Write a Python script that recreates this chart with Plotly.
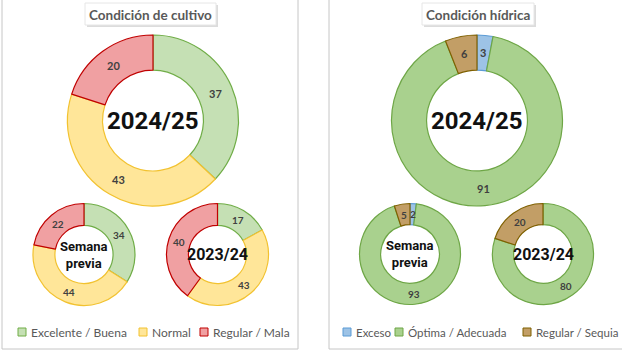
import math
import plotly.graph_objects as go

W, H = 622, 351

# ---------------- data ----------------
cult_labels = ["Excelente / Buena", "Normal", "Regular / Mala"]
cult_2024_25 = [37, 43, 20]
cult_semana = [34, 44, 22]
cult_2023_24 = [17, 43, 40]

hid_labels = ["Exceso", "Óptima / Adecuada", "Regular / Sequia"]
hid_2024_25 = [3, 91, 6]
hid_semana = [2, 93, 5]
hid_2023_24 = [0, 80, 20]

cult_fill = ["#c5e0b4", "#ffe699", "#f0a0a2"]
cult_line = ["#70ad47", "#f2c230", "#c00000"]
hid_fill = ["#9dc3e6", "#a9d18e", "#c29e66"]
hid_line = ["#5b9bd5", "#6ea646", "#7f6000"]

titles = ["Condición de cultivo", "Condición hídrica"]

FONT = "Lato, 'Open Sans', sans-serif"
NUMFONT = "Roboto, 'DejaVu Sans', sans-serif"


def px2x(px):
    return px / W


def py2y(py):
    return 1 - py / H


fig = go.Figure()
annotations = []
shapes = []

# panels
for x0, x1 in [(2, 298), (329, 626)]:
    shapes.append(dict(type="rect", xref="paper", yref="paper",
                       x0=px2x(x0), x1=px2x(x1), y0=py2y(349), y1=py2y(-5),
                       line=dict(color="#c6c6c6", width=1), fillcolor="white", layer="below"))

# title boxes
for (bx0, bx1, cx), t in zip([(85, 216, 150.5), (422, 534, 478)], titles):
    shapes.append(dict(type="rect", xref="paper", yref="paper",
                       x0=px2x(bx0 + 2), x1=px2x(bx1 + 2), y0=py2y(27), y1=py2y(5),
                       line=dict(width=0), fillcolor="#dcdcdc", layer="below"))
    shapes.append(dict(type="rect", xref="paper", yref="paper",
                       x0=px2x(bx0), x1=px2x(bx1), y0=py2y(25), y1=py2y(3),
                       line=dict(color="#e6e6e6", width=1), fillcolor="white", layer="below"))
    annotations.append(dict(x=px2x(cx), y=py2y(14.5), xref="paper", yref="paper",
                            text="<b>" + t + "</b>", showarrow=False,
                            font=dict(family=FONT, size=13.5, color="#595959"),
                            xanchor="center", yanchor="middle"))

donuts = [
    # values, labels, fill, line, cx, cy, r, hole, center text, center size, label size
    (cult_2024_25, cult_labels, cult_fill, cult_line, 153, 120.5, 85.5, 0.59, "2024/25", 24, 11),
    (cult_semana, cult_labels, cult_fill, cult_line, 84, 254.5, 51, 0.57, "Semana<br>previa", 13, 10),
    (cult_2023_24, cult_labels, cult_fill, cult_line, 217.5, 254.5, 51, 0.57, "2023/24", 16, 10),
    (hid_2024_25, hid_labels, hid_fill, hid_line, 477, 120.5, 85.5, 0.59, "2024/25", 24, 11),
    (hid_semana, hid_labels, hid_fill, hid_line, 410, 254, 50.5, 0.58, "Semana<br>previa", 13, 10),
    (hid_2023_24, hid_labels, hid_fill, hid_line, 543, 254, 50.5, 0.58, "2023/24", 16, 10),
]

for vals, labs, fill, line, cx, cy, r, hole, ctext, csize, lsize in donuts:
    fig.add_trace(go.Pie(
        values=vals, labels=labs, sort=False, direction="clockwise", rotation=0,
        hole=hole, textinfo="none", hoverinfo="label+value", showlegend=False,
        marker=dict(colors=fill, line=dict(color=line, width=1.2)),
        domain=dict(x=[px2x(cx - r), px2x(cx + r)], y=[py2y(cy + r), py2y(cy - r)]),
    ))
    annotations.append(dict(x=px2x(cx), y=py2y(cy), xref="paper", yref="paper",
                            text="<b>" + ctext + "</b>", showarrow=False,
                            font=dict(family=NUMFONT, size=csize, color="#111111"),
                            xanchor="center", yanchor="middle"))
    total = sum(vals)
    cum = 0
    rm = r * (1 + hole) / 2
    for v in vals:
        if v > 0:
            th = 2 * math.pi * (cum + v / 2) / total
            lx = cx + rm * math.sin(th)
            ly = cy - rm * math.cos(th)
            annotations.append(dict(x=px2x(lx), y=py2y(ly), xref="paper", yref="paper",
                                    text="<b>" + str(v) + "</b>", showarrow=False,
                                    font=dict(family=FONT, size=lsize, color="#404040"),
                                    xanchor="center", yanchor="middle"))
        cum += v

# legends
legend_items = [
    (cult_labels, cult_fill, cult_line, [18, 139, 200], 12),
    (hid_labels, hid_fill, hid_line, [343, 395, 523], 11.5),
]
ly = 332
for labs, fill, line, xs, fs in legend_items:
    for lab, f, l, x in zip(labs, fill, line, xs):
        shapes.append(dict(type="rect", xref="paper", yref="paper",
                           x0=px2x(x), x1=px2x(x + 8), y0=py2y(ly + 4), y1=py2y(ly - 4),
                           line=dict(color=l, width=1), fillcolor=f))
        annotations.append(dict(x=px2x(x + 10.5), y=py2y(ly), xref="paper", yref="paper",
                                text=lab, showarrow=False,
                                font=dict(family=FONT, size=fs, color="#595959"),
                                xanchor="left", yanchor="middle"))

fig.update_layout(
    width=W, height=H, margin=dict(l=0, r=0, t=0, b=0),
    paper_bgcolor="white", plot_bgcolor="white",
    shapes=shapes, annotations=annotations,
)

fig.write_html("out.html")
